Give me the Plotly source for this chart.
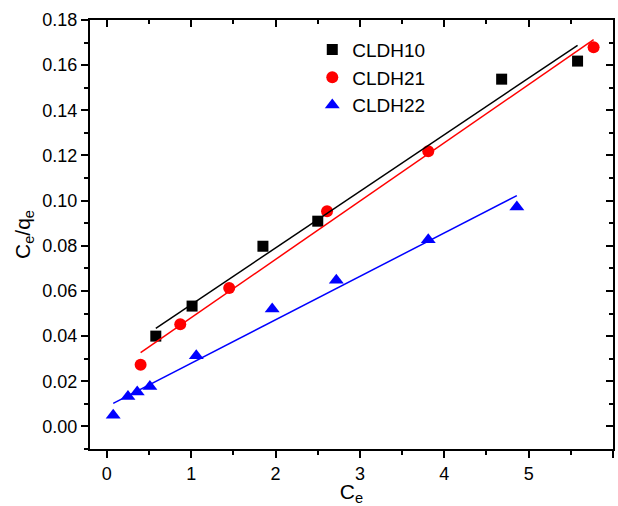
import numpy as np
import plotly.graph_objects as go

# Data
ce_cldh10 = [0.58, 1.01, 1.85, 2.50, 4.68, 5.58]
cq_cldh10 = [0.0400, 0.0533, 0.0798, 0.0909, 0.1538, 0.1618]

ce_cldh21 = [0.40, 0.87, 1.45, 2.61, 3.81, 5.77]
cq_cldh21 = [0.0273, 0.0453, 0.0613, 0.0953, 0.1219, 0.1679]

ce_cldh22 = [0.075, 0.25, 0.36, 0.51, 1.06, 1.96, 2.72, 3.81, 4.86]
cq_cldh22 = [0.0050, 0.0133, 0.0152, 0.0177, 0.0313, 0.0520, 0.0647, 0.0827, 0.0972]

series = [
    ("CLDH10", ce_cldh10, cq_cldh10, "black", "square", 11),
    ("CLDH21", ce_cldh21, cq_cldh21, "red", "circle", 12),
    ("CLDH22", ce_cldh22, cq_cldh22, "blue", "triangle-up", 13),
]

FONT = "Liberation Sans, Arial, sans-serif"
fig = go.Figure()

for name, x, y, color, sym, size in series:
    fig.add_trace(go.Scatter(x=x, y=y, mode="markers", name=name,
                             marker=dict(color=color, symbol=sym, size=size,
                                         line=dict(width=0))))

# linear fits (drawn on the mirrored top/right axes, same ranges)
for name, x, y, color, sym, size in series:
    k, b = np.polyfit(x, y, 1)
    xs = np.array([min(x), max(x)])
    fig.add_trace(go.Scatter(x=xs, y=k * xs + b, mode="lines",
                             xaxis="x2", yaxis="y2",
                             line=dict(color=color, width=1.5),
                             showlegend=False, hoverinfo="skip"))

XR = [-0.2, 6.0]
YR = [-0.01, 0.18]
axis_common = dict(showgrid=False, zeroline=False, showline=True,
                   linecolor="black", linewidth=2, tickcolor="black",
                   tickwidth=1.5, ticklen=7)
minor_out_x = dict(dtick=0.5, ticks="outside", ticklen=4, tickcolor="black", tickwidth=1.5)
minor_out_y = dict(dtick=0.01, ticks="outside", ticklen=4, tickcolor="black", tickwidth=1.5)

fig.update_layout(
    width=618, height=506,
    margin=dict(l=90, r=5, t=20, b=57),
    plot_bgcolor="white", paper_bgcolor="white",
    font=dict(family=FONT, color="black", size=18),
    xaxis=dict(range=XR, dtick=1, tick0=0, ticks="outside",
               tickfont=dict(size=18), minor=minor_out_x,
               title=dict(text="C<sub>e</sub>", font=dict(size=21), standoff=2),
               **axis_common),
    yaxis=dict(range=YR, dtick=0.02, tick0=0, ticks="outside",
               tickformat=".2f", tickfont=dict(size=18), minor=minor_out_y,
               title=dict(text="C<sub>e</sub>/q<sub>e</sub>", font=dict(size=21), standoff=6),
               **axis_common),
    xaxis2=dict(range=XR, dtick=1, tick0=0, ticks="inside", overlaying="x",
                side="top", anchor="y2", showticklabels=False,
                minor=dict(minor_out_x, ticks="inside"),
                **axis_common),
    yaxis2=dict(range=YR, dtick=0.02, tick0=0, ticks="inside", overlaying="y",
                side="right", anchor="x2", showticklabels=False,
                minor=dict(minor_out_y, ticks="inside"),
                **axis_common),
    legend=dict(x=0.425, y=0.975, xanchor="left", yanchor="top",
                bgcolor="rgba(0,0,0,0)", font=dict(size=19), tracegroupgap=0),
)

fig.write_html("out.html")
